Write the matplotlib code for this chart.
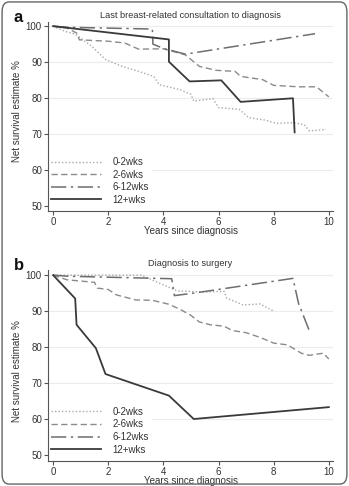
import numpy as np
import matplotlib.pyplot as plt
from matplotlib.patches import FancyBboxPatch

plt.rcParams['font.family'] = ['Liberation Sans', 'DejaVu Sans']

# panel a: last breast-related consultation to diagnosis
a_02_x = [0, 0.45, 0.8, 1.4, 1.9, 2.5, 3.1, 3.65, 3.85, 4.6, 5.0, 5.1, 5.8, 6.0, 6.75, 7.1, 7.7, 8.1, 8.7, 9.1, 9.3, 9.9]
a_02_y = [100, 98.5, 97.8, 94.4, 90.7, 88.8, 87.4, 86.0, 83.7, 82.3, 81.0, 79.1, 79.8, 77.3, 76.8, 74.5, 73.8, 72.9, 73.1, 72.6, 70.8, 71.2]
a_26_x = [0, 0.5, 0.87, 0.95, 2.0, 2.6, 3.1, 4.0, 4.8, 5.3, 5.9, 6.6, 6.8, 7.6, 8.0, 8.9, 9.55, 10.0]
a_26_y = [100, 99.5, 98.0, 96.2, 95.8, 95.3, 93.6, 93.7, 92.0, 88.8, 87.7, 87.4, 86.0, 85.1, 83.5, 83.1, 83.1, 80.3]
a_612_x = [0, 0.5, 3.6, 3.62, 4.0, 4.8, 9.5]
a_612_y = [100, 99.7, 99.2, 95.0, 93.8, 92.2, 97.9]
a_12_x = [0, 4.2, 4.2, 4.95, 6.1, 6.8, 8.7, 8.76]
a_12_y = [100, 96.3, 90.1, 84.6, 84.9, 78.9, 79.9, 70.4]

# panel b: diagnosis to surgery
b_02_x = [0, 3.2, 4.0, 4.5, 5.5, 6.2, 6.3, 6.9, 7.5, 8.0]
b_02_y = [100, 100, 97.3, 95.6, 95.3, 95.5, 93.6, 91.7, 92.0, 90.0]
b_26_x = [0, 0.5, 1.5, 1.6, 2.0, 2.3, 3.0, 3.6, 4.2, 4.6, 5.0, 5.3, 5.7, 6.2, 6.5, 7.0, 7.5, 8.0, 8.5, 9.0, 9.3, 9.8, 10.0]
b_26_y = [100, 98.7, 98.0, 96.4, 96.0, 94.5, 93.1, 93.0, 91.9, 90.5, 88.8, 87.0, 86.2, 85.8, 84.6, 84.0, 82.7, 81.1, 80.6, 78.3, 77.7, 78.3, 76.7]
b_612_x = [0, 0.5, 4.3, 4.4, 5.1, 8.7, 8.9, 9.3]
b_612_y = [100, 99.7, 99.0, 94.3, 95.0, 99.1, 92.2, 84.4]
b_12_x = [0, 0.8, 0.85, 1.55, 1.9, 4.2, 5.1, 10.0]
b_12_y = [100, 93.5, 86.2, 79.7, 72.5, 66.5, 60.0, 63.3]

labels = ['0-2wks', '2-6wks', '6-12wks', '12+wks']
titles = ['Last breast-related consultation to diagnosis', 'Diagnosis to surgery']
letters = ['a', 'b']

styles = [
    dict(color='#a8a8a8', lw=1.0, ls=(0, (1, 1.5))),
    dict(color='#8a8a8a', lw=1.0, ls=(0, (4.5, 2.5))),
    dict(color='#6e6e6e', lw=1.1, ls=(0, (10, 3, 1.5, 3))),
    dict(color='#3a3a3a', lw=1.3, ls='-'),
]

txt = '#333333'
fig = plt.figure(figsize=(3.49, 4.86), dpi=100)

panels = [
    [(a_02_x, a_02_y), (a_26_x, a_26_y), (a_612_x, a_612_y), (a_12_x, a_12_y)],
    [(b_02_x, b_02_y), (b_26_x, b_26_y), (b_612_x, b_612_y), (b_12_x, b_12_y)],
]
rects = [[0.138, 0.566, 0.816, 0.389], [0.138, 0.052, 0.816, 0.393]]
ylims = [(48.5, 101.2), (48.4, 101.5)]
ylab_y = [0.53, 0.47]
xlab_y = [-0.107, -0.105]
letter_y = [0.9547, 0.4444]

for k in range(2):
    ax = fig.add_axes(rects[k])
    for i in range(4):
        x, y = panels[k][i]
        ax.plot(x, y, label=labels[i], **styles[i])
    ax.set_xlim(-0.18, 10.15)
    ax.set_ylim(*ylims[k])
    ax.set_xticks([0, 2, 4, 6, 8, 10])
    ax.set_yticks([50, 60, 70, 80, 90, 100])
    for v in [60, 70, 80, 90, 100]:
        ax.axhline(v, color='#ececec', lw=0.8, zorder=0)
    for s in ['top', 'right']:
        ax.spines[s].set_visible(False)
    for s in ['left', 'bottom']:
        ax.spines[s].set_color('#555555')
        ax.spines[s].set_linewidth(0.8)
    ax.tick_params(colors='#555555', labelcolor=txt, labelsize=7, length=3, width=0.8, pad=1.5)
    ax.set_xlabel('Years since diagnosis', fontsize=7, color=txt)
    ax.xaxis.set_label_coords(0.5, xlab_y[k])
    ax.xaxis.label.set_va('center')
    ax.set_ylabel('Net survival estimate %', fontsize=7, color=txt)
    ax.yaxis.set_label_coords(-0.109, ylab_y[k])
    ax.yaxis.label.set_va('center')
    ax.set_title(titles[k], fontsize=6.6, color=txt, pad=3)
    leg = ax.legend(loc='lower left', bbox_to_anchor=(0.0, 0.017), frameon=True, fontsize=7,
                    handlelength=5.1, handletextpad=1.2, labelspacing=0.27, borderpad=0.3,
                    borderaxespad=0, labelcolor=txt, facecolor='white', edgecolor='none',
                    fancybox=False, framealpha=1)
    leg.set_zorder(2.2)
    fig.text(0.04, letter_y[k], letters[k], fontsize=12,
             fontweight='bold', color='#111111', va='baseline', ha='left')

border = FancyBboxPatch((0.006, 0.004), 0.988, 0.992, boxstyle='round,pad=0,rounding_size=0.02',
                        transform=fig.transFigure, fill=False, edgecolor='#666666', lw=1.0)
fig.patches.append(border)

fig.savefig('out.png', dpi=100)
